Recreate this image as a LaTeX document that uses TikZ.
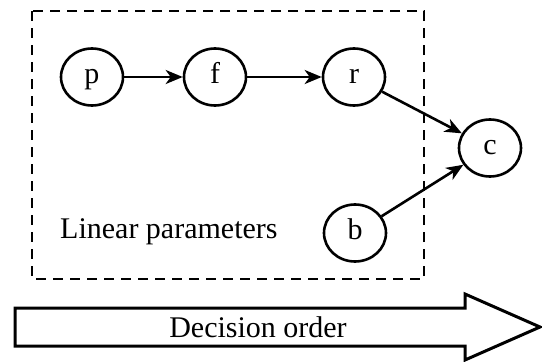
\documentclass[tikz,border=0pt]{standalone}
\usepackage{fontspec}
\setmainfont{Liberation Serif}
\usetikzlibrary{arrows.meta,shapes.geometric}
\begin{document}
\begin{tikzpicture}[x=1pt,y=-1pt,
  var/.style={draw,line width=2.6pt,ellipse,minimum width=62pt,minimum height=57pt,inner sep=0pt,
    text height=16.5pt,text depth=2.8pt,font=\fontsize{30}{34}\selectfont},
  link/.style={line width=2.6pt,-{Stealth[length=17pt,width=14pt,inset=5pt]}},
  label/.style={font=\fontsize{30}{34}\selectfont,inner sep=0pt}]
\useasboundingbox (0,0) rectangle (542,362);
% group boundary
\draw[line width=2.8pt,dash pattern=on 10pt off 7pt] (32,11) rectangle (424,279);
% variables
\node[var] (p) at (92,77) {p};
\node[var] (f) at (215,77) {f};
\node[var] (r) at (354,77) {r};
\node[var] (c) at (490,148) {c};
\node[var] (b) at (355,233) {b};
\node[label,anchor=base west] (lin) at (60,238) {Linear parameters};
% dependencies
\draw[link] (p) -- (f);
\draw[link] (f) -- (r);
\draw[link] (r) -- (c);
\draw[link] (b) -- (c);
% ordering arrow
\draw[line width=3pt,line join=miter] (15,308) -- (465,308) -- (465,294) -- (540,327) -- (465,360) -- (465,346) -- (15,346) -- cycle;
\node[label] (order) at (258,327) {Decision order};
\end{tikzpicture}
\end{document}
